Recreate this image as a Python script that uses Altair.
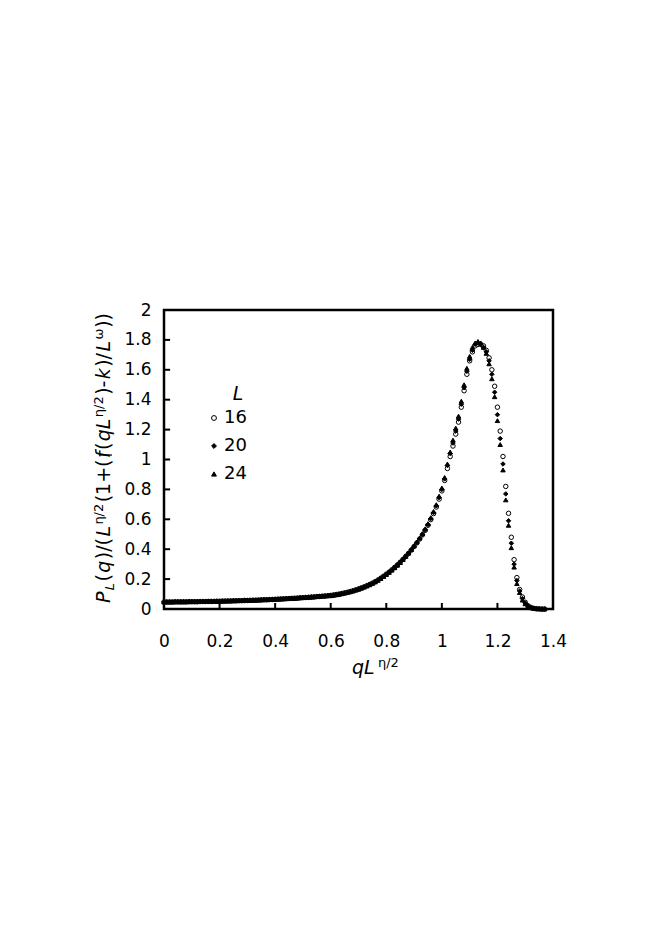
import altair as alt
import pandas as pd

FONT = "DejaVu Sans"

# ---------------- data ----------------
series_L = ["16", "20", "24"]
series_shapes = ["circle", "diamond", "triangle-up"]
series_fills = ["white", "black", "black"]
series_strokes = ["black", "black", "black"]

q_grid = [
    0.00, 0.01, 0.02, 0.03, 0.04, 0.05, 0.06, 0.07, 0.08, 0.09,
    0.10, 0.11, 0.12, 0.13, 0.14, 0.15, 0.16, 0.17, 0.18, 0.19,
    0.20, 0.21, 0.22, 0.23, 0.24, 0.25, 0.26, 0.27, 0.28, 0.29,
    0.30, 0.31, 0.32, 0.33, 0.34, 0.35, 0.36, 0.37, 0.38, 0.39,
    0.40, 0.41, 0.42, 0.43, 0.44, 0.45, 0.46, 0.47, 0.48, 0.49,
    0.50, 0.51, 0.52, 0.53, 0.54, 0.55, 0.56, 0.57, 0.58, 0.59,
    0.60, 0.61, 0.62, 0.63, 0.64, 0.65, 0.66, 0.67, 0.68, 0.69,
    0.70, 0.71, 0.72, 0.73, 0.74, 0.75, 0.76, 0.77, 0.78, 0.79,
    0.80, 0.81, 0.82, 0.83, 0.84, 0.85, 0.86, 0.87, 0.88, 0.89,
    0.90, 0.91, 0.92, 0.93, 0.94, 0.95, 0.96, 0.97, 0.98, 0.99,
    1.00, 1.01, 1.02, 1.03, 1.04, 1.05, 1.06, 1.07, 1.08, 1.09,
    1.10, 1.11, 1.12, 1.13, 1.14, 1.15, 1.16, 1.17, 1.18, 1.19,
    1.20, 1.21, 1.22, 1.23, 1.24, 1.25, 1.26, 1.27, 1.28, 1.29,
    1.30, 1.31, 1.32, 1.33, 1.34, 1.35, 1.36, 1.37,
]

# common low-q part (q = 0.00 ... 0.59), all sizes collapse here
p_low = [
    0.047, 0.047, 0.047, 0.047, 0.048, 0.048, 0.048, 0.048, 0.048, 0.049,
    0.049, 0.049, 0.049, 0.050, 0.050, 0.050, 0.051, 0.051, 0.051, 0.052,
    0.052, 0.053, 0.053, 0.054, 0.054, 0.055, 0.055, 0.056, 0.056, 0.057,
    0.057, 0.058, 0.059, 0.059, 0.060, 0.061, 0.062, 0.062, 0.063, 0.064,
    0.065, 0.066, 0.067, 0.068, 0.069, 0.070, 0.071, 0.072, 0.073, 0.075,
    0.076, 0.077, 0.078, 0.080, 0.081, 0.083, 0.084, 0.086, 0.087, 0.089,
]

# q = 0.60 ... 1.37
p16_high = [
    0.091, 0.094, 0.097, 0.100, 0.104, 0.108, 0.112, 0.117, 0.122, 0.128,
    0.134, 0.141, 0.148, 0.156, 0.164, 0.173, 0.183, 0.194, 0.206, 0.219,
    0.233, 0.247, 0.262, 0.278, 0.295, 0.313, 0.332, 0.352, 0.372, 0.394,
    0.418, 0.442, 0.468, 0.496, 0.526, 0.560, 0.598, 0.638, 0.682, 0.735,
    0.79, 0.86, 0.94, 1.02, 1.09, 1.17, 1.25, 1.35, 1.46, 1.57,
    1.66, 1.72, 1.76, 1.77, 1.77, 1.76, 1.73, 1.68, 1.60, 1.49,
    1.35, 1.19, 1.02, 0.82, 0.64, 0.48, 0.33, 0.21, 0.13, 0.08,
    0.045, 0.022, 0.011, 0.005, 0.002, 0.001, 0.0, 0.0,
]
p20_high = [
    0.090, 0.093, 0.096, 0.099, 0.103, 0.107, 0.111, 0.116, 0.121, 0.127,
    0.133, 0.140, 0.147, 0.155, 0.163, 0.172, 0.182, 0.193, 0.205, 0.218,
    0.232, 0.246, 0.261, 0.277, 0.294, 0.312, 0.331, 0.351, 0.373, 0.396,
    0.420, 0.445, 0.471, 0.499, 0.530, 0.565, 0.605, 0.645, 0.690, 0.745,
    0.80, 0.87, 0.96, 1.04, 1.11, 1.19, 1.27, 1.37, 1.48, 1.59,
    1.67, 1.73, 1.77, 1.78, 1.77, 1.75, 1.72, 1.66, 1.57, 1.45,
    1.30, 1.14, 0.97, 0.77, 0.59, 0.44, 0.30, 0.19, 0.12, 0.07,
    0.040, 0.020, 0.010, 0.005, 0.002, 0.001, 0.0, 0.0,
]
p24_high = [
    0.089, 0.092, 0.095, 0.098, 0.102, 0.106, 0.110, 0.115, 0.120, 0.126,
    0.132, 0.139, 0.146, 0.154, 0.162, 0.171, 0.181, 0.192, 0.204, 0.217,
    0.231, 0.245, 0.260, 0.276, 0.293, 0.311, 0.331, 0.352, 0.374, 0.398,
    0.423, 0.448, 0.475, 0.504, 0.536, 0.571, 0.611, 0.652, 0.698, 0.755,
    0.81, 0.88, 0.97, 1.05, 1.13, 1.21, 1.29, 1.39, 1.50, 1.61,
    1.69, 1.75, 1.78, 1.79, 1.78, 1.75, 1.71, 1.64, 1.54, 1.42,
    1.26, 1.10, 0.93, 0.73, 0.56, 0.41, 0.28, 0.17, 0.11, 0.06,
    0.035, 0.018, 0.009, 0.004, 0.002, 0.001, 0.0, 0.0,
]

x_tick_vals = [0.2, 0.4, 0.6, 0.8, 1.0, 1.2]
y_tick_vals = [0.2, 0.4, 0.6, 0.8, 1.0, 1.2, 1.4, 1.6, 1.8]
x_label_vals = [0, 0.2, 0.4, 0.6, 0.8, 1.0, 1.2, 1.4]
y_label_vals = [0, 0.2, 0.4, 0.6, 0.8, 1.0, 1.2, 1.4, 1.6, 1.8, 2.0]

# y-axis title pieces: (text, italic, role)  role: m=main, b=subscript, s=superscript
ytitle_pieces = [
    ("P", True, "m"), ("L", True, "b"), ("(", False, "m"), ("q", True, "m"),
    (")/(", False, "m"), ("L", True, "m"), ("η/2", False, "s"),
    ("(1+(", False, "m"), ("f", True, "m"), ("(", False, "m"), ("qL", True, "m"),
    ("η/2", False, "s"), (")-", False, "m"), ("k", True, "m"), (")/", False, "m"),
    ("L", True, "m"), ("ω", False, "s"), ("))", False, "m"),
]

# ---------------- build table ----------------
series_vals = {
    "16": p_low + p16_high,
    "20": p_low + p20_high,
    "24": p_low + p24_high,
}
rows = []
for L in series_L:
    for q, p in zip(q_grid, series_vals[L]):
        rows.append({"q": q, "p": p, "L": L})
df = pd.DataFrame(rows)

W, H = 389, 299
xscale = alt.Scale(domain=[0, 1.4], nice=False, zero=False)
yscale = alt.Scale(domain=[0, 2], nice=False, zero=False)

x_axis = alt.Axis(
    values=x_label_vals, format="~g", title=None, ticks=False, domain=False,
    grid=False, labelFont=FONT, labelFontSize=17, labelColor="black",
    labelPadding=24, labelFlush=False)
y_axis = alt.Axis(
    values=y_label_vals, format="~g", title=None, ticks=False, domain=False,
    grid=False, labelFont=FONT, labelFontSize=17, labelColor="black",
    labelPadding=13, labelFlush=False)

legend = alt.Legend(
    title=None, orient="none", legendX=41, legendY=99,
    labelFont=FONT, labelFontSize=18, labelColor="black",
    symbolSize=24, symbolStrokeWidth=1,
    rowPadding=10, labelOffset=1, padding=0,
)

points = alt.Chart(df).mark_point(
    filled=True, size=20, strokeWidth=1, opacity=1
).encode(
    x=alt.X("q:Q", scale=xscale, axis=x_axis),
    y=alt.Y("p:Q", scale=yscale, axis=y_axis),
    shape=alt.Shape("L:N", scale=alt.Scale(domain=series_L, range=series_shapes), legend=legend),
    fill=alt.Fill("L:N", scale=alt.Scale(domain=series_L, range=series_fills), legend=legend),
    stroke=alt.Stroke("L:N", scale=alt.Scale(domain=series_L, range=series_strokes), legend=legend),
)

xticks = alt.Chart(pd.DataFrame({"t": x_tick_vals})).mark_rule(
    color="black", strokeWidth=2
).encode(
    x=alt.X("t:Q", scale=xscale, axis=x_axis),
    y=alt.YDatum(0, scale=yscale, axis=y_axis),
    y2=alt.Y2Datum(0.04),
)
yticks = alt.Chart(pd.DataFrame({"t": y_tick_vals})).mark_rule(
    color="black", strokeWidth=2
).encode(
    y=alt.Y("t:Q", scale=yscale, axis=y_axis),
    x=alt.XDatum(0, scale=xscale, axis=x_axis),
    x2=alt.X2Datum(0.022),
)

dummy = pd.DataFrame({"k": [0]})


def txt(text, x, y, size, italic=False, angle=0, align="left"):
    kw = dict(text=text, font=FONT, fontSize=size, color="black",
              align=align, baseline="alphabetic")
    if italic:
        kw["fontStyle"] = "italic"
    if angle:
        kw["angle"] = angle
    return alt.Chart(dummy).mark_text(**kw).encode(x=alt.value(x), y=alt.value(y))


# advance widths of DejaVu Sans (em units), used to lay the title pieces end to end
ADV = {"P": .603, "L": .557, "(": .390, ")": .390, "q": .635, "/": .337,
       "1": .636, "+": .838, "f": .352, "k": .579, "-": .361, "η": .634,
       "2": .636, "ω": .80}
SIZE = {"m": 19, "b": 13, "s": 13}
XPOS = {"m": -54, "b": -50, "s": -61}
GAP = 1.4
ytitle = []
ypos = 293.0
for text, italic, role in ytitle_pieces:
    ytitle.append(txt(text, XPOS[role], ypos, SIZE[role], italic, 270))
    ypos -= sum(ADV[c] for c in text) * SIZE[role] + GAP

overline = alt.Chart(dummy).mark_rule(color="black", strokeWidth=1.2).encode(
    x=alt.value(-64), x2=alt.value(-52), y=alt.value(145), y2=alt.value(145)
)

xtitle = [
    txt("qL", 188, 364, 19, True),
    txt("η/2", 214, 357, 13),
]
legend_title = txt("L", 74, 90, 19, True, 0, "center")

chart = alt.layer(
    points, xticks, yticks, overline, legend_title, *ytitle, *xtitle
).properties(
    width=W, height=H,
    autosize=alt.AutoSizeParams(type="none"),
    padding={"left": 156, "top": 302, "right": 93, "bottom": 314},
).configure_view(
    stroke="black", strokeWidth=2.5
).configure_axis(grid=False)

chart.save("out.html", embed_options={"renderer": "svg", "actions": False})
